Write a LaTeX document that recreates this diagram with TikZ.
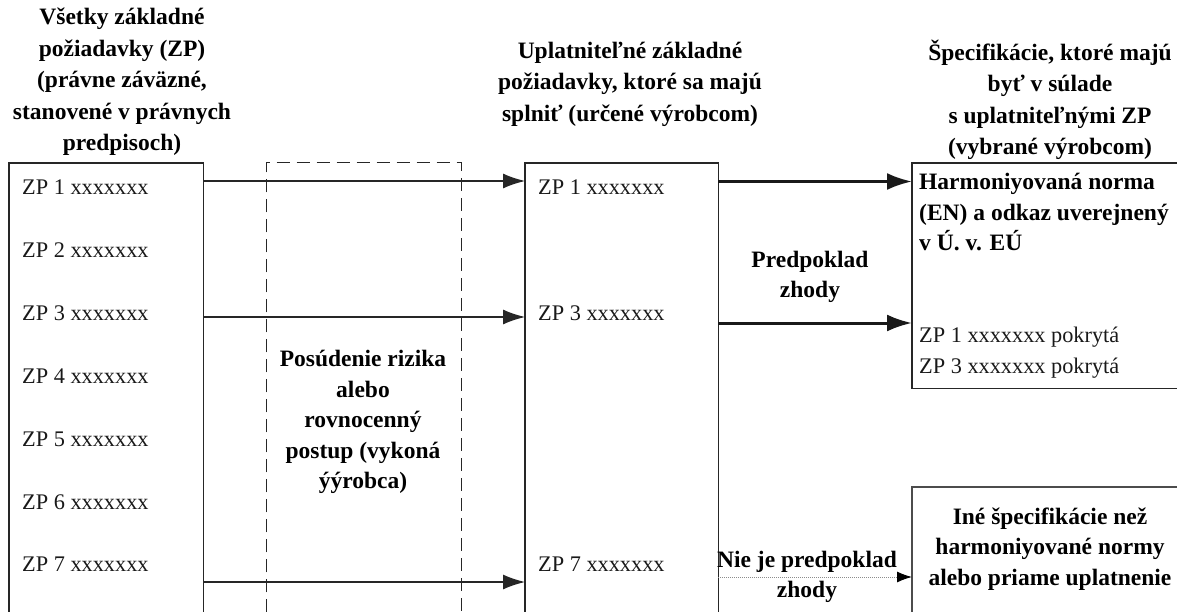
\documentclass[tikz,border=0pt]{standalone}
\usepackage{fontspec}
\setmainfont{Liberation Serif}
\usetikzlibrary{arrows.meta,positioning}
\tikzset{
  x=1pt,y=-1pt,
  boxline/.style={line width=1.1pt,black!85},
  dashline/.style={line width=1pt,dash pattern=on 13pt off 7pt,black!85},
  region/.style={inner sep=0pt,minimum height=449pt,anchor=north west},
  head/.style={font=\fontsize{23.5}{31.5}\selectfont\bfseries,align=center,text=black},
  item/.style={font=\fontsize{22.3}{30}\selectfont,anchor=west,inner sep=0pt,text=black!90},
  bold/.style={font=\fontsize{23.5}{30.5}\selectfont\bfseries,align=center,inner sep=0pt,text=black},
  thinarrow/.style={line width=1.2pt,black!85,-{Latex[length=22pt,width=15pt]}},
  thickarrow/.style={line width=3pt,black!90,-{Latex[length=25pt,width=17pt]}},
  faintarrow/.style={line width=1pt,black!45,densely dotted,arrows={-{Latex[length=15pt,width=11pt,black]}}},
}
\begin{document}
\begin{tikzpicture}
\useasboundingbox (0,0) rectangle (1177,612);
% regions
\node[region,minimum width=194pt] (all) at (9,163) {};
\node[region,minimum width=195pt] (risk) at (266,163) {};
\node[region,minimum width=193pt] (appl) at (525,163) {};
\node[inner sep=0pt,minimum width=265pt,minimum height=225pt,anchor=north west] (hen) at (912,163) {};
\node[inner sep=0pt,minimum width=265pt,minimum height=125pt,anchor=north west] (other) at (912,487) {};
% box outlines
\draw[boxline] (all.south west) -- (all.north west) -- (all.north east) -- (all.south east);
\draw[boxline] (appl.south west) -- (appl.north west) -- (appl.north east) -- (appl.south east);
\draw[boxline] (hen.north east) -- (hen.north west) -- (hen.south west) -- (hen.south east);
\draw[boxline,black!70] (other.north east) -- (other.north west) -- (other.south west);
\draw[dashline] (risk.south west) -- (risk.north west) -- (risk.north east) -- (risk.south east);
% headings
\node[head] (h1) at (122,82) {Všetky základné\\požiadavky (ZP)\\(právne záväzné,\\stanovené v právnych\\predpisoch)};
\node[head] (h2) at (630,84) {Uplatniteľné základné\\požiadavky, ktoré sa majú\\splniť (určené výrobcom)};
\node[head] (h3) at (1050,100) {Špecifikácie, ktoré majú\\byť v súlade\\s uplatniteľnými ZP\\(vybrané výrobcom)};
% left items
\node[item] (z1) at (22,187) {ZP 1 xxxxxxx};
\node[item] (z2) at (22,250) {ZP 2 xxxxxxx};
\node[item] (z3) at (22,313) {ZP 3 xxxxxxx};
\node[item] (z4) at (22,376) {ZP 4 xxxxxxx};
\node[item] (z5) at (22,439) {ZP 5 xxxxxxx};
\node[item] (z6) at (22,502) {ZP 6 xxxxxxx};
\node[item] (z7) at (22,564) {ZP 7 xxxxxxx};
% middle items
\node[item] (m1) at (538,187) {ZP 1 xxxxxxx};
\node[item] (m3) at (538,313) {ZP 3 xxxxxxx};
\node[item] (m7) at (538,564) {ZP 7 xxxxxxx};
% risk text
\node[bold] (rt) at (363,422) {Posúdenie rizika\\alebo\\rovnocenný\\postup (vykoná\\ýýrobca)};
% right
\node[bold,align=left,anchor=north west] (hn) at (919,173) {Harmoniyovaná norma\\(EN) a odkaz uverejnený\\v Ú. v. EÚ};
\node[item] (c1) at (919,337) {ZP 1 xxxxxxx pokrytá};
\node[item] (c3) at (919,368) {ZP 3 xxxxxxx pokrytá};
\node[bold] (ot) at (1050,549) {Iné špecifikácie než\\harmoniyované normy\\alebo priame uplatnenie};
% labels
\node[bold] (pz) at (810,277) {Predpoklad\\zhody};
\node[bold] (nz) at (807,577) {Nie je predpoklad\\zhody};
% connector rows
\coordinate (r1) at (0,181);
\coordinate (r3) at (0,317);
\coordinate (r7) at (0,582);
\coordinate (q1) at (0,181.5);
\coordinate (q3) at (0,323);
\coordinate (q7) at (0,577);
\draw[thinarrow] (all.east |- r1) -- (appl.west |- r1);
\draw[thinarrow] (all.east |- r3) -- (appl.west |- r3);
\draw[thinarrow] (all.east |- r7) -- (appl.west |- r7);
\draw[thickarrow] (appl.east |- q1) -- (hen.west |- q1);
\draw[thickarrow] (appl.east |- q3) -- (hen.west |- q3);
\draw[faintarrow] (appl.east |- q7) -- (other.west |- q7);
\end{tikzpicture}
\end{document}
